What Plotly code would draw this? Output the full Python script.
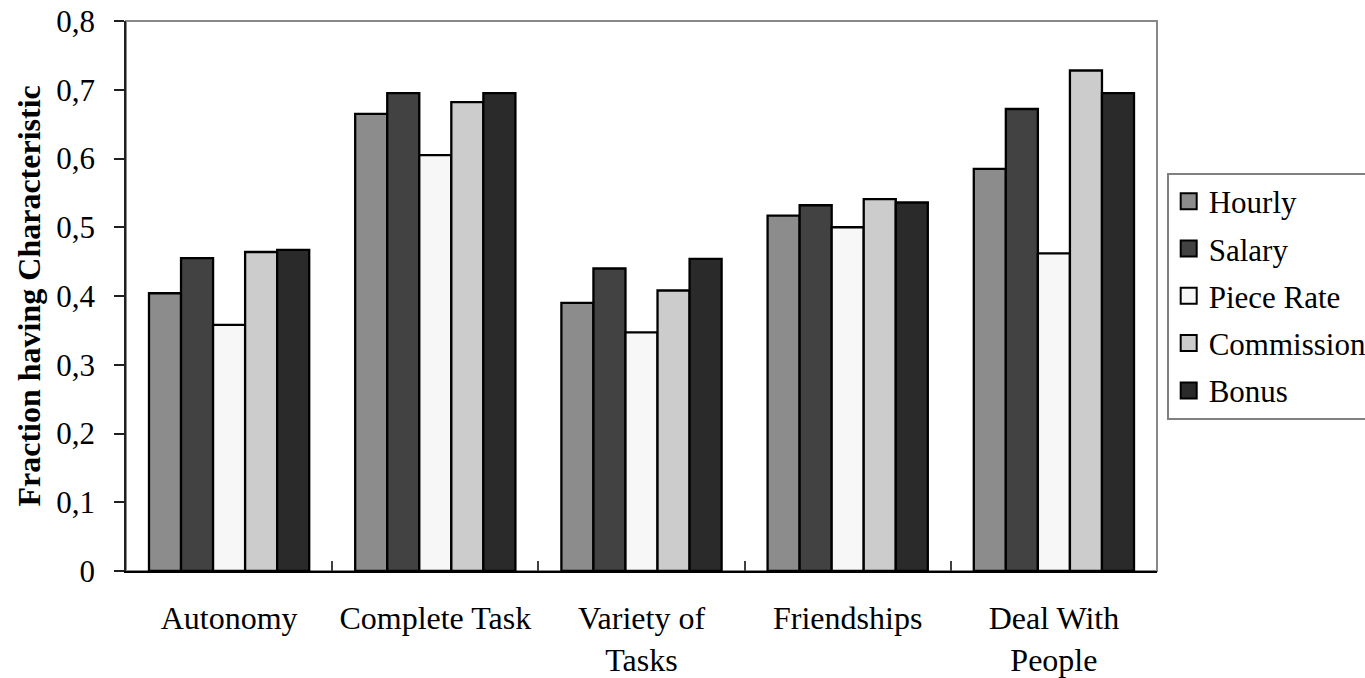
import plotly.graph_objects as go

# Job characteristics by pay scheme
categories = ["Autonomy", "Complete Task", "Variety of<br>Tasks", "Friendships", "Deal With<br>People"]
series_names = ["Hourly", "Salary", "Piece Rate", "Commission", "Bonus"]

hourly = [0.404, 0.665, 0.390, 0.517, 0.585]
salary = [0.455, 0.695, 0.440, 0.532, 0.672]
piece_rate = [0.358, 0.605, 0.347, 0.500, 0.462]
commission = [0.464, 0.682, 0.408, 0.541, 0.728]
bonus = [0.467, 0.695, 0.454, 0.536, 0.695]

y_ticks = [0, 0.1, 0.2, 0.3, 0.4, 0.5, 0.6, 0.7, 0.8]
y_tick_labels = ["0", "0,1", "0,2", "0,3", "0,4", "0,5", "0,6", "0,7", "0,8"]

series_values = [hourly, salary, piece_rate, commission, bonus]
fill_colors = ["#8c8c8c", "#424242", "#f7f7f7", "#cccccc", "#2a2a2a"]

FONT = "Liberation Serif, Times New Roman, serif"

fig = go.Figure()
for name, vals, col in zip(series_names, series_values, fill_colors):
    fig.add_trace(go.Bar(
        x=categories, y=vals, name=name, legendgroup=name, showlegend=False,
        marker=dict(color=col, line=dict(color="#000000", width=2.3)),
    ))
    # legend key: a large square swatch for each series
    fig.add_trace(go.Scatter(
        x=[categories[0]], y=[None], mode="markers", name=name, legendgroup=name,
        marker=dict(symbol="square", size=21, color=col,
                    line=dict(color="#000000", width=2)),
        hoverinfo="skip",
    ))

fig.update_layout(
    width=1365, height=678,
    margin=dict(l=126, r=208, t=21, b=107, autoexpand=False),
    paper_bgcolor="white", plot_bgcolor="white",
    barmode="group", bargap=0.223, bargroupgap=0,
    font=dict(family=FONT, size=32, color="#000000"),
    showlegend=True,
    legend=dict(
        x=1.0094, y=0.7245, xanchor="left", yanchor="top",
        bordercolor="#808080", borderwidth=2, bgcolor="white",
        font=dict(family=FONT, size=31, color="#000000"),
        traceorder="grouped", tracegroupgap=4, itemsizing="trace",
    ),
    xaxis=dict(
        showgrid=False, showline=True, linecolor="#000000", linewidth=1.5,
        ticks="inside", tickson="boundaries", ticklen=10, tickcolor="#404040",
        tickwidth=1.5, tickfont=dict(family=FONT, size=32),
        ticklabelstandoff=18, automargin=False,
    ),
    yaxis=dict(
        range=[0, 0.8], tickvals=y_ticks, ticktext=y_tick_labels,
        showgrid=False, zeroline=False, showline=True, linecolor="#202020",
        linewidth=1.5, ticks="outside", ticklen=10, tickcolor="#202020",
        tickwidth=1.5, tickfont=dict(family=FONT, size=31),
        ticklabelstandoff=13, automargin=False,
    ),
    annotations=[dict(
        text="<b>Fraction having Characteristic</b>", textangle=-90,
        xref="paper", yref="paper", x=-0.0936, y=0.5,
        xanchor="center", yanchor="middle", showarrow=False,
        font=dict(family=FONT, size=32, color="#000000"),
    )],
    shapes=[dict(type="rect", xref="paper", yref="paper", x0=0, x1=1, y0=0, y1=1,
                 line=dict(color="#888888", width=2), layer="below")],
)

fig.write_html("out.html")
